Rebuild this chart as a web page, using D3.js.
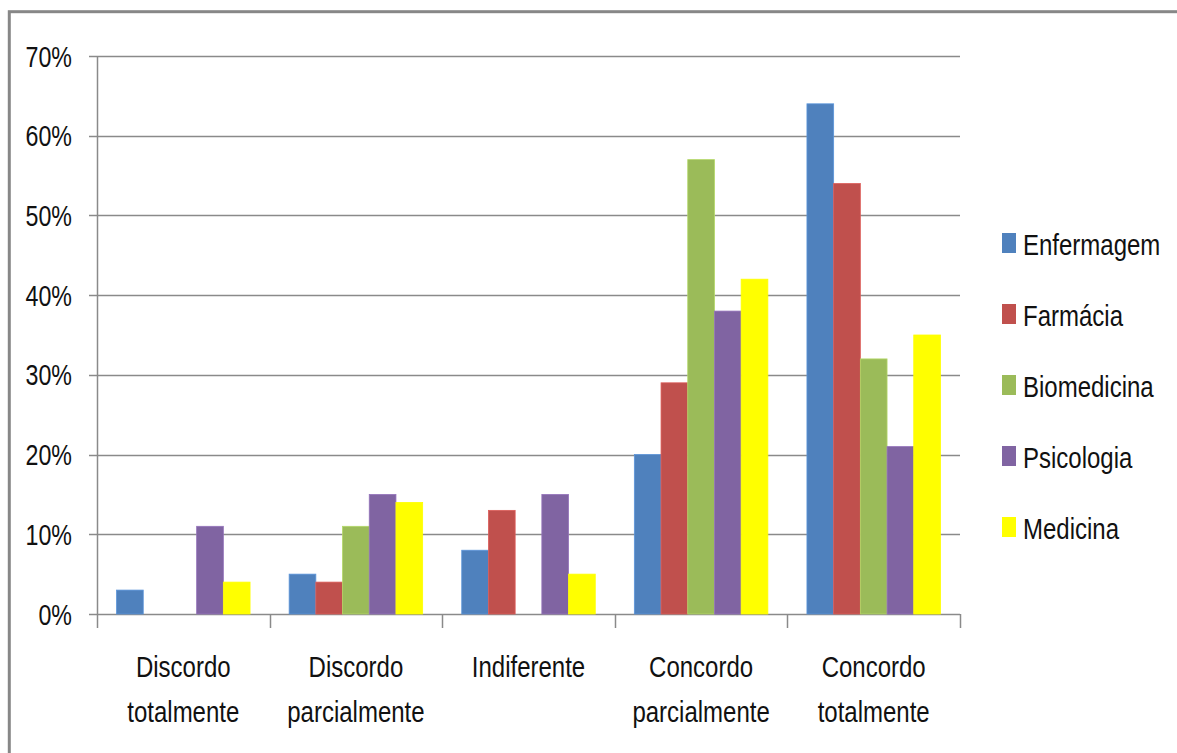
<!DOCTYPE html>
<html>
<head>
<meta charset="utf-8">
<script src="https://cdn.jsdelivr.net/npm/d3@7"></script>
<style>
  html, body { margin: 0; padding: 0; background: #fff; }
  svg { display: block; }
  text { font-family: "Liberation Sans", Arial, sans-serif; fill: #111; }
</style>
</head>
<body>
<svg id="chart" width="1177" height="753"></svg>
<script>
const categories = [
  ["Discordo", "totalmente"],
  ["Discordo", "parcialmente"],
  ["Indiferente"],
  ["Concordo", "parcialmente"],
  ["Concordo", "totalmente"]
];
const seriesNames = ["Enfermagem", "Farmácia", "Biomedicina", "Psicologia", "Medicina"];
const seriesColors = ["#4F81BD", "#C0504D", "#9BBB59", "#8064A2", "#FFFF00"];
const enfermagem  = [3, 5, 8, 20, 64];
const farmacia    = [0, 4, 13, 29, 54];
const biomedicina = [0, 11, 0, 57, 32];
const psicologia  = [11, 15, 15, 38, 21];
const medicina    = [4, 14, 5, 42, 35];
const yTicks = [0, 10, 20, 30, 40, 50, 60, 70];

(function () {
const seriesValues = [enfermagem, farmacia, biomedicina, psicologia, medicina];
const catKeys = categories.map(c => c.join(" "));
const SX = 0.8; // horizontal squeeze of the text (condensed look)

const svg = d3.select("#chart");

// outer frame
svg.append("rect")
  .attr("x", 9.3).attr("y", 11.7)
  .attr("width", 1400).attr("height", 1000)
  .attr("fill", "none").attr("stroke", "#878787").attr("stroke-width", 3);

const pLeft = 97, pRight = 960, pTop = 56, pBottom = 614;

const y = d3.scaleLinear().domain([0, 70]).range([pBottom, pTop]);
const pIn = 0.2265;
const x0 = d3.scaleBand().domain(catKeys).range([pLeft, pRight]).paddingInner(pIn).paddingOuter(pIn / 2);
const x1 = d3.scaleBand().domain(seriesNames).range([0, x0.bandwidth()]);
const color = d3.scaleOrdinal().domain(seriesNames).range(seriesColors);

// gridlines
svg.append("g").selectAll("line").data(yTicks).join("line")
  .attr("x1", pLeft - 8).attr("x2", pRight)
  .attr("y1", d => Math.round(y(d)) + 0.5).attr("y2", d => Math.round(y(d)) + 0.5)
  .attr("stroke", "#8a8a8a").attr("stroke-width", 1.5);

// y axis line
svg.append("line")
  .attr("x1", pLeft + 0.5).attr("x2", pLeft + 0.5)
  .attr("y1", y(70)).attr("y2", y(0))
  .attr("stroke", "#8a8a8a").attr("stroke-width", 1.5);

// y tick labels
svg.append("g").selectAll("text").data(yTicks).join("text")
  .attr("transform", d => `translate(72,${y(d) + 10.5}) scale(${SX},1)`)
  .attr("text-anchor", "end")
  .style("font-size", "29px")
  .text(d => d + "%");

// x tick marks at category boundaries
const step = x0.step();
const boundaries = catKeys.map(k => x0(k) - step * pIn / 2).concat([pRight]);
svg.append("g").selectAll("line").data(boundaries).join("line")
  .attr("x1", d => Math.round(d) + 0.5).attr("x2", d => Math.round(d) + 0.5)
  .attr("y1", pBottom).attr("y2", pBottom + 14)
  .attr("stroke", "#8a8a8a").attr("stroke-width", 1.5);

// bars
const groups = svg.append("g").selectAll("g").data(catKeys).join("g")
  .attr("transform", k => `translate(${x0(k)},0)`);
groups.selectAll("rect")
  .data((k, ci) => seriesNames.map((s, si) => ({ s, v: seriesValues[si][ci] })).filter(d => d.v > 0))
  .join("rect")
  .attr("x", d => x1(d.s))
  .attr("y", d => y(d.v))
  .attr("width", x1.bandwidth())
  .attr("height", d => y(0) - y(d.v))
  .attr("fill", d => color(d.s))
  .attr("stroke", d => d3.color(color(d.s)).brighter(0.4))
  .attr("stroke-width", 0.8);

// category labels
const labels = svg.append("g").selectAll("text").data(categories).join("text")
  .attr("text-anchor", "middle")
  .style("font-size", "30px")
  .attr("transform", (c, i) => `translate(${x0(catKeys[i]) + x0.bandwidth() / 2},677) scale(${SX},1)`);
labels.selectAll("tspan").data(c => c).join("tspan")
  .attr("x", 0).attr("y", (d, i) => i * 45)
  .text(d => d);

// legend
const legend = svg.append("g").selectAll("g").data(seriesNames).join("g")
  .attr("transform", (d, i) => `translate(1002,${233 + i * 71})`);
legend.append("rect")
  .attr("width", 14).attr("height", 20)
  .attr("fill", d => color(d));
legend.append("text")
  .attr("transform", `translate(21,21.5) scale(${SX},1)`)
  .style("font-size", "30px")
  .text(d => d);
})();
</script>
</body>
</html>
